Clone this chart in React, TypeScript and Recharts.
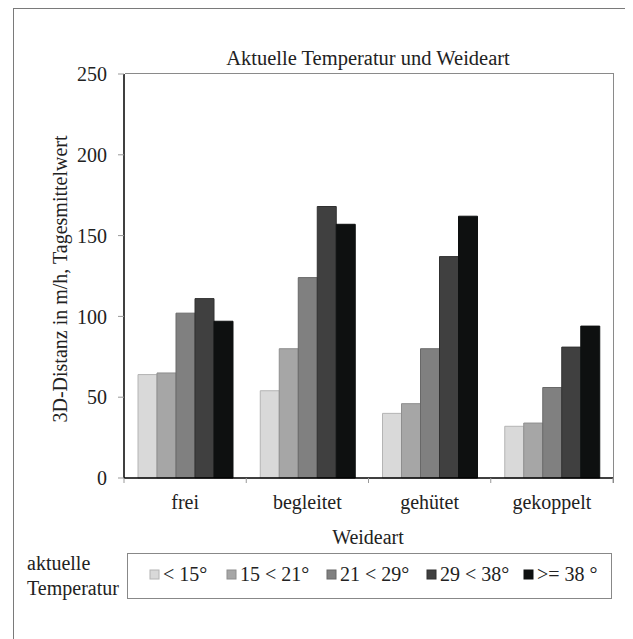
import React from "react";
import { BarChart, Bar, XAxis, YAxis } from "recharts";

// Weideart categories and mean 3D distance (m/h) per temperature class
const categories = ["frei", "begleitet", "gehütet", "gekoppelt"];
const seriesNames = ["< 15°", "15 < 21°", "21 < 29°", "29 < 38°", ">= 38 °"];
const below15 = [64, 54, 40, 32];
const from15to21 = [65, 80, 46, 34];
const from21to29 = [102, 124, 80, 56];
const from29to38 = [111, 168, 137, 81];
const above38 = [97, 157, 162, 94];
const yTicks = [0, 50, 100, 150, 200, 250];

const fills = ["#d9d9d9", "#a6a6a6", "#808080", "#404040", "#0e1010"];
const strokes = ["#b4b4b4", "#8e8e8e", "#686868", "#303030", "#0e1010"];
const keys = ["s0", "s1", "s2", "s3", "s4"];
// legend square left edges (frame coords)
const legendX = [136, 213, 313, 413, 510];

const data = categories.map((name, i) => ({
    name,
    s0: below15[i],
    s1: from15to21[i],
    s2: from21to29[i],
    s3: from29to38[i],
    s4: above38[i],
}));

const FONT = "'Liberation Serif', 'Times New Roman', serif";

// chart box
const W = 617;
const H = 630;
const MARGIN = { top: 65, right: 18, bottom: 121, left: 50 };
const Y_AXIS_W = 60;
const X_AXIS_H = 40;

function CategoryTick(props: any) {
    const { x, y, payload, index } = props;
    const half = payload?.offset ?? 0;
    return (
        <g>
            <line x1={x - half} y1={y - 8} x2={x - half} y2={y - 3} stroke="#999" />
            {index === categories.length - 1 && (
                <line x1={x + half} y1={y - 8} x2={x + half} y2={y - 3} stroke="#999" />
            )}
            <text x={x} y={y + 23} textAnchor="middle" fontFamily={FONT} fontSize={20} fill="#222">
                {payload.value}
            </text>
        </g>
    );
}

export default function App() {
    const plotLeft = MARGIN.left + Y_AXIS_W;
    const plotRight = W - MARGIN.right;
    const plotTop = MARGIN.top;
    const plotBottom = H - MARGIN.bottom - X_AXIS_H;

    return (
        <div
            style={{
                position: "relative",
                marginLeft: 5,
                width: 619,
                height: 631,
                border: "1px solid #7a7a7a",
                borderBottom: "none",
                boxSizing: "border-box",
                background: "#fff",
            }}
        >
            <div style={{ position: "absolute", left: 0, top: 0 }}>
                <BarChart
                    width={W}
                    height={H}
                    data={data}
                    margin={MARGIN}
                    barCategoryGap={14}
                    barGap={0}
                >
                    <XAxis
                        dataKey="name"
                        axisLine={{ stroke: "#000", strokeWidth: 1.5 }}
                        tickLine={false}
                        tick={<CategoryTick />}
                        height={X_AXIS_H}
                        interval={0}
                    />
                    <YAxis
                        domain={[0, 250]}
                        ticks={yTicks}
                        width={Y_AXIS_W}
                        axisLine={{ stroke: "#000", strokeWidth: 1.5 }}
                        tickLine={{ stroke: "#999" }}
                        tickSize={6}
                        tickMargin={11}
                        tick={{ fontFamily: FONT, fontSize: 20, fill: "#222" }}
                        interval={0}
                    />
                    {keys.map((k, i) => (
                        <Bar
                            key={k}
                            dataKey={k}
                            name={seriesNames[i]}
                            fill={fills[i]}
                            stroke={strokes[i]}
                            strokeWidth={1}
                            isAnimationActive={false}
                        />
                    ))}
                </BarChart>
            </div>
            {/* titles, axis captions, plot frame and legend */}
            <svg
                width={W}
                height={H}
                style={{ position: "absolute", left: 0, top: 0, pointerEvents: "none" }}
                fontFamily={FONT}
            >
                <path
                    d={`M${plotLeft + 1} ${plotTop - 0.5} H${plotRight + 0.5} V${plotBottom + 5}`}
                    fill="none"
                    stroke="#8a8a8a"
                    strokeWidth={1}
                    shapeRendering="crispEdges"
                />
                <text x={354} y={56} textAnchor="middle" fontSize={20.5} fill="#222">
                    Aktuelle Temperatur und Weideart
                </text>
                <text
                    x={0}
                    y={0}
                    textAnchor="middle"
                    dominantBaseline="central"
                    fontSize={20}
                    fill="#222"
                    transform="translate(46 270) rotate(-90)"
                >
                    3D-Distanz in m/h, Tagesmittelwert
                </text>
                <text x={354} y={535} textAnchor="middle" fontSize={20} fill="#222">
                    Weideart
                </text>
                <text x={13} y={561} fontSize={20} fill="#222">aktuelle</text>
                <text x={13} y={586} fontSize={20} fill="#222">Temperatur</text>
                <rect x={113.5} y={544.5} width={484} height={45} fill="none" stroke="#888" />
                {seriesNames.map((n, i) => (
                    <g key={n}>
                        <rect x={legendX[i]} y={561} width={9} height={9} fill={fills[i]} stroke={strokes[i]} />
                        <text x={legendX[i] + 13} y={572} fontSize={20} fill="#222">
                            {n}
                        </text>
                    </g>
                ))}
            </svg>
        </div>
    );
}
